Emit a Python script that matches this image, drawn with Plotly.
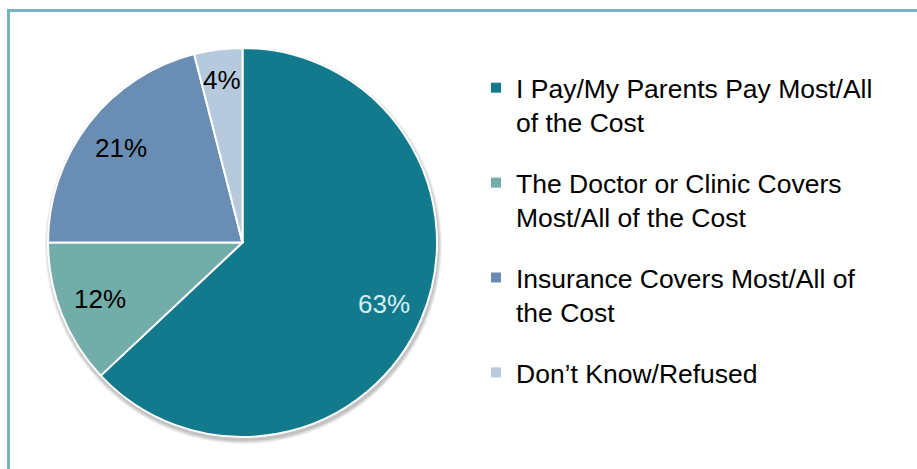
import math
import plotly.graph_objects as go

labels = [
    "I Pay/My Parents Pay Most/All<br>of the Cost",
    "The Doctor or Clinic Covers<br>Most/All of the Cost",
    "Insurance Covers Most/All of<br>the Cost",
    "Don’t Know/Refused",
]
values = [63, 12, 21, 4]
colors = ["#127A8C", "#72ADAA", "#6A8DB3", "#B7C9DC"]
text_colors = ["#D3EEF1", "#000000", "#000000", "#000000"]

W, H = 917, 469
FONT = "Liberation Sans, Arial, sans-serif"

# pie placement (pixels)
px0, px1 = 48, 437
py0, py1 = 48, 437
dom_x = [px0 / W, px1 / W]
dom_y = [1 - py1 / H, 1 - py0 / H]
cx_px = (px0 + px1) / 2
cy_px = (py0 + py1) / 2
r_px = (px1 - px0) / 2

fig = go.Figure()

# soft shadow under the pie
shapes = []
for k, a in enumerate([0.05, 0.06, 0.07, 0.08]):
    grow = 4 - k
    dy = 3
    shapes.append(dict(
        type="circle", xref="paper", yref="paper", layer="below",
        x0=(cx_px - r_px - grow + 1) / W, x1=(cx_px + r_px + grow + 1) / W,
        y0=1 - (cy_px + r_px + grow + dy) / H, y1=1 - (cy_px - r_px - grow + dy) / H,
        fillcolor=f"rgba(0,0,0,{a})", line=dict(width=0),
    ))

fig.add_trace(go.Pie(
    labels=labels,
    values=values,
    sort=False,
    direction="clockwise",
    rotation=0,
    marker=dict(colors=colors, line=dict(color="#FFFFFF", width=2)),
    textinfo="none",
    domain=dict(x=dom_x, y=dom_y),
    hoverinfo="label+percent",
    showlegend=False,
))

# percentage labels placed along each slice's bisector
total = sum(values)
annotations = []
cum = 0
for v, tc in zip(values, text_colors):
    mid = (cum + v / 2) / total * 2 * math.pi
    cum += v
    rf = 0.79 if v >= 10 else 0.84
    ax = (cx_px + rf * r_px * math.sin(mid)) / W
    ay = 1 - (cy_px - rf * r_px * math.cos(mid)) / H
    annotations.append(dict(
        x=ax, y=ay, xref="paper", yref="paper", showarrow=False,
        text=f"{v}%", font=dict(family=FONT, size=26, color=tc),
        xanchor="center", yanchor="middle",
    ))

# legend entries
for lab, col in zip(labels, colors):
    fig.add_trace(go.Scatter(
        x=[None], y=[None], mode="markers", name=lab, legendgroup=lab,
        marker=dict(symbol="square", size=10, color=col),
        hoverinfo="skip",
    ))

fig.update_layout(
    width=W, height=H,
    margin=dict(l=0, r=0, t=0, b=0),
    paper_bgcolor="#FFFFFF",
    plot_bgcolor="rgba(0,0,0,0)",
    font=dict(family=FONT, size=26, color="#000000"),
    showlegend=True,
    xaxis=dict(visible=False),
    yaxis=dict(visible=False),
    legend=dict(
        x=476 / W, xanchor="left",
        y=1 - 64 / H, yanchor="top",
        valign="top",
        traceorder="grouped",
        tracegroupgap=23,
        font=dict(family=FONT, size=26.5, color="#000000"),
        bgcolor="rgba(0,0,0,0)",
        itemclick=False, itemdoubleclick=False,
    ),
    annotations=annotations,
    shapes=shapes + [
        dict(type="path", xref="paper", yref="paper", layer="above",
             path=f"M {8.5 / W} -0.05 L {8.5 / W} {1 - 10.5 / H} L 1.05 {1 - 10.5 / H}",
             line=dict(color="#79B4BE", width=3)),
    ],
)

fig.write_html("out.html")
